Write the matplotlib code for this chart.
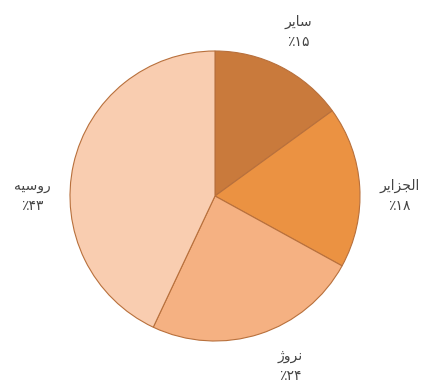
import numpy as np
import matplotlib.pyplot as plt

## data (names already shaped + reversed for left-to-right drawing)
names = ["\ufeae\ufbfe\ufe8e\ufeb3",                      # سایر
         "\ufeae\ufbfe\ufe8d\ufeb0\ufea0\ufedf\ufe8d",    # الجزایر
         "\ufb8a\ufeed\ufeae\ufee7",                      # نروژ
         "\ufeea\ufbff\ufeb3\ufeed\ufead"]                # روسیه
shares = [15, 18, 24, 43]
colors = ["#c97a3c", "#eb9242", "#f5b182", "#f9cdb0"]

## where each label sits (angle in degrees, distance in radii)
label_ang = [63, 0, -66, 180]
label_dist = [1.27, 1.27, 1.28, 1.26]

## persian digits
fa_digits = str.maketrans("0123456789", "۰۱۲۳۴۵۶۷۸۹")
labels = [f"{n}\n\u066a{str(v).translate(fa_digits)}" for n, v in zip(names, shares)]

fig = plt.figure(figsize=(4.24, 3.85), dpi=100)
ax = fig.add_axes([0, 0, 1, 1])

wedges, texts = ax.pie(shares, colors=colors, labels=labels, startangle=90,
                       counterclock=False,
                       wedgeprops=dict(edgecolor="#b8703c", linewidth=0.8),
                       textprops=dict(fontsize=10, color="#444444",
                                      family=["DejaVu Sans"], linespacing=1.55))
for t, a, d in zip(texts, label_ang, label_dist):
    t.set_position((d * np.cos(np.radians(a)), d * np.sin(np.radians(a))))
    t.set_ha("center")
    t.set_va("center")

## keep pie at the same place as the picture
r_px = 145
ax.set_xlim(-215 / r_px, (424 - 215) / r_px)
ax.set_ylim(-189 / r_px, 196 / r_px)
ax.set_aspect("equal")
ax.axis("off")

fig.savefig("out.png", dpi=100)
